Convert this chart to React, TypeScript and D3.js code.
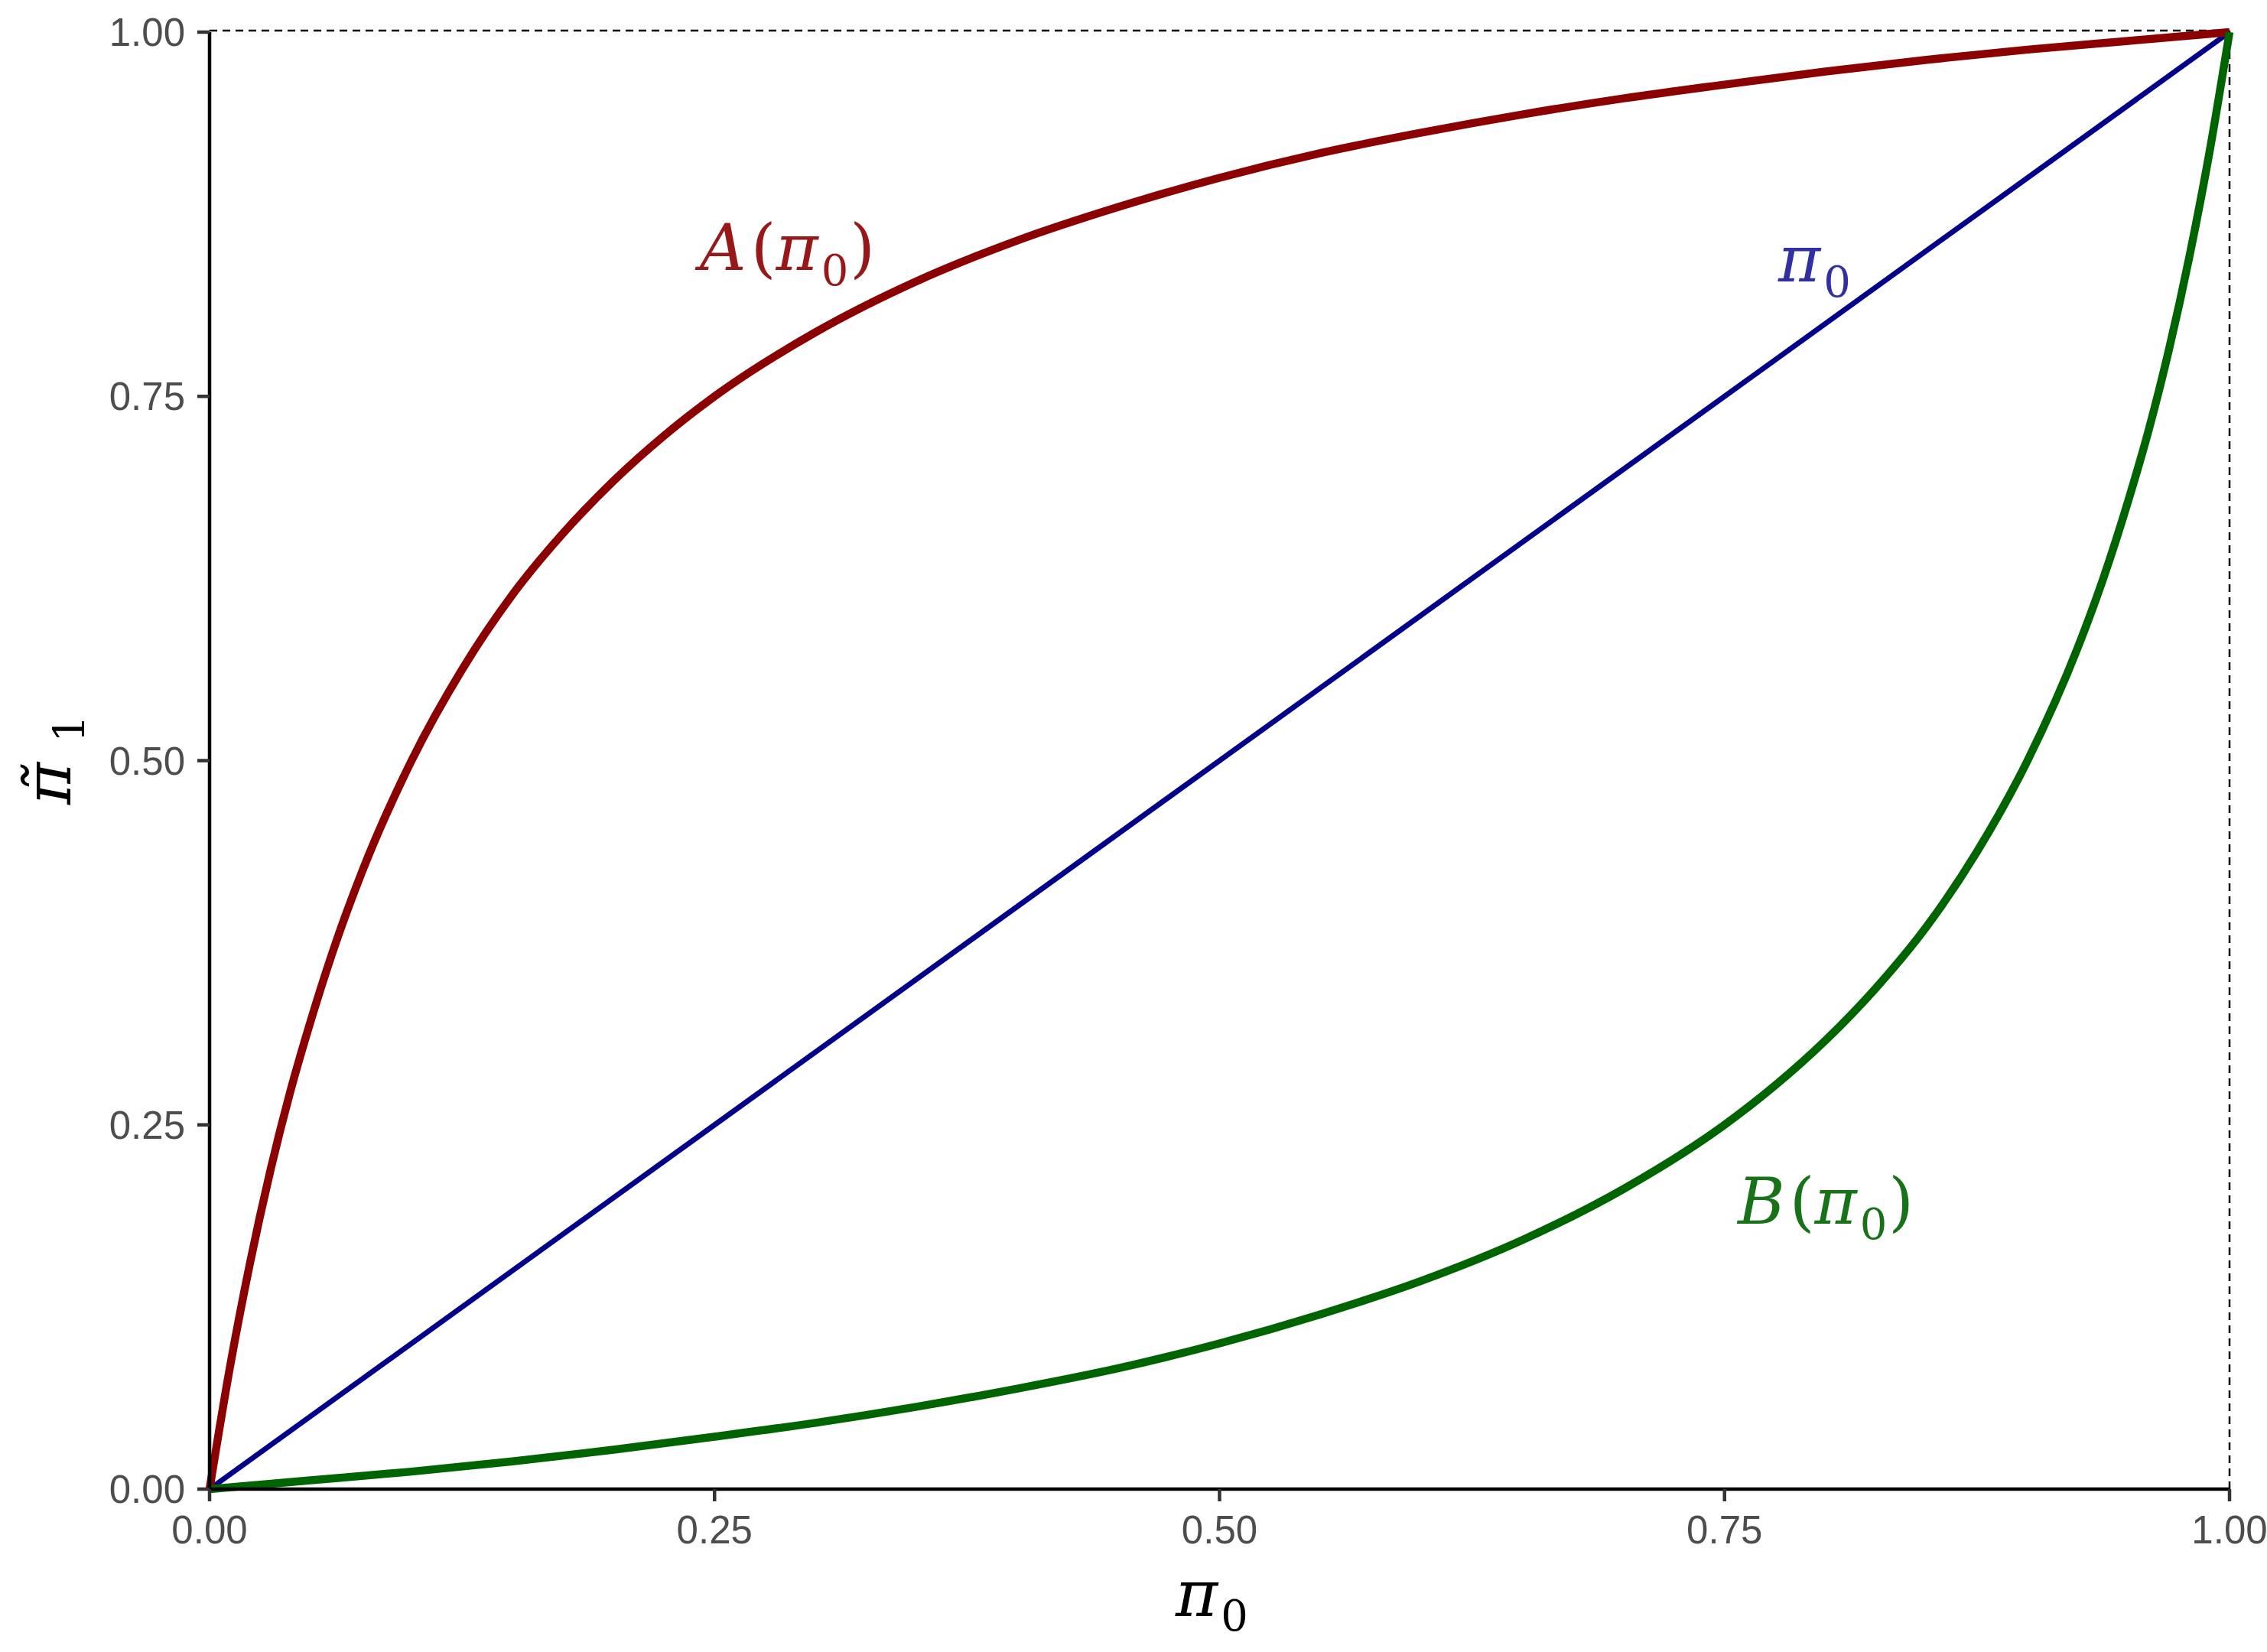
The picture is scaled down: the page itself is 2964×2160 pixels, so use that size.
import React from "react";
import * as d3 from "d3";

// Data
const xA = [0, 0.01, 0.02, 0.03, 0.04, 0.05, 0.0625, 0.075, 0.1, 0.125, 0.15, 0.175, 0.2, 0.225, 0.25, 0.3, 0.35, 0.4, 0.45, 0.5, 0.55, 0.6, 0.65, 0.7, 0.75, 0.8, 0.85, 0.9, 0.95, 1];
const yA = [0, 0.083, 0.155, 0.218, 0.273, 0.321, 0.375, 0.422, 0.5, 0.5625, 0.614, 0.656, 0.692, 0.723, 0.75, 0.794, 0.829, 0.857, 0.880, 0.9, 0.917, 0.931, 0.9435, 0.9545, 0.964, 0.973, 0.981, 0.988, 0.994, 1];
const xB = [0, 0.05, 0.1, 0.15, 0.2, 0.25, 0.3, 0.35, 0.4, 0.45, 0.5, 0.55, 0.6, 0.65, 0.7, 0.75, 0.775, 0.8, 0.825, 0.85, 0.875, 0.9, 0.925, 0.9375, 0.95, 0.96, 0.97, 0.98, 0.99, 1];
const yB = [0, 0.006, 0.012, 0.019, 0.027, 0.036, 0.0455, 0.0565, 0.069, 0.083, 0.1, 0.12, 0.143, 0.171, 0.206, 0.25, 0.277, 0.308, 0.344, 0.386, 0.4375, 0.5, 0.578, 0.625, 0.679, 0.727, 0.782, 0.845, 0.917, 1];
const xDiag = [0, 1];
const yDiag = [0, 1];
const ticks = [0, 0.25, 0.5, 0.75, 1];
const tickLabels = ["0.00", "0.25", "0.50", "0.75", "1.00"];

const W = 2964;
const H = 2160;
const L = 274, R = 2915, T = 42, B = 1947;

export default function App() {
  const x = d3.scaleLinear().domain([0, 1]).range([L, R]);
  const y = d3.scaleLinear().domain([0, 1]).range([B, T]);
  const line = d3
    .line<[number, number]>()
    .x((d) => x(d[0]))
    .y((d) => y(d[1]))
    .curve(d3.curveMonotoneX);
  const ptsA = xA.map((v, i) => [v, yA[i]] as [number, number]);
  const ptsB = xB.map((v, i) => [v, yB[i]] as [number, number]);
  const ptsD = xDiag.map((v, i) => [v, yDiag[i]] as [number, number]);

  const serif = "'DejaVu Serif', 'Liberation Serif', serif";
  const sans = "'Liberation Sans', Arial, sans-serif";
  const big = 84;
  const sub = 56;

  const mathLabel = (
    px: number,
    py: number,
    fn: string | null,
    color: string
  ) => (
    <text x={x(px)} y={y(py)} fill={color} fontFamily={serif} fontSize={big} opacity={0.9}>
      {fn && <tspan fontStyle="italic">{fn}</tspan>}
      {fn && <tspan dx={6}>(</tspan>}
      <tspan fontStyle="italic">π</tspan>
      <tspan fontSize={sub} dy={20} dx={4}>0</tspan>
      {fn && <tspan dy={-20} dx={2}>)</tspan>}
    </text>
  );

  return (
    <svg
      width={W}
      height={H}
      style={{ position: "absolute", left: 0, top: 0, display: "block", background: "#fff" }}
    >
      <rect x={0} y={0} width={W} height={H} fill="#fff" />
      {/* dashed boundary lines */}
      <line x1={x(0)} x2={x(1)} y1={y(1) - 2} y2={y(1) - 2} stroke="#000" strokeWidth={2.5} strokeDasharray="10,7" />
      <line x1={x(1)} x2={x(1)} y1={y(0)} y2={y(1) - 2} stroke="#000" strokeWidth={2.5} strokeDasharray="10,7" />

      {/* curves */}
      <path d={line(ptsD) || ""} fill="none" stroke="#00008B" strokeWidth={7} />
      <path d={line(ptsA) || ""} fill="none" stroke="#8B0000" strokeWidth={10.5} strokeLinejoin="round" />
      <path d={line(ptsB) || ""} fill="none" stroke="#006400" strokeWidth={10.5} strokeLinejoin="round" />

      {/* axes */}
      <line x1={L} x2={R} y1={B} y2={B} stroke="#000" strokeWidth={4.5} />
      <line x1={L} x2={L} y1={B} y2={T} stroke="#000" strokeWidth={4.5} />
      {ticks.map((t, i) => (
        <g key={"x" + i}>
          <line x1={x(t)} x2={x(t)} y1={B} y2={B + 16} stroke="#333" strokeWidth={4.5} />
          <text x={x(t)} y={B + 71} textAnchor="middle" fontFamily={sans} fontSize={51} fill="#4d4d4d">
            {tickLabels[i]}
          </text>
        </g>
      ))}
      {ticks.map((t, i) => (
        <g key={"y" + i}>
          <line x1={L - 16} x2={L} y1={y(t)} y2={y(t)} stroke="#333" strokeWidth={4.5} />
          <text x={L - 32} y={y(t) + 18} textAnchor="end" fontFamily={sans} fontSize={51} fill="#4d4d4d">
            {tickLabels[i]}
          </text>
        </g>
      ))}

      {/* axis titles */}
      <text x={1537} y={2113} fontFamily={serif} fontSize={big} fill="#000">
        <tspan fontStyle="italic">π</tspan>
        <tspan fontSize={sub} dy={19} dx={4}>0</tspan>
      </text>
      <text transform="translate(92, 1052) rotate(-90)" fontFamily={serif} fontSize={big} fill="#000">
        <tspan fontStyle="italic">{"π\u0303"}</tspan>
        <tspan fontSize={sub} dy={18} dx={26}>1</tspan>
      </text>

      {/* curve labels */}
      {mathLabel(0.2427, 0.8367, "A", "#8B0000")}
      {mathLabel(0.7766, 0.8289, null, "#1a1a9a")}
      {mathLabel(0.7565, 0.1822, "B", "#006400")}
    </svg>
  );
}
